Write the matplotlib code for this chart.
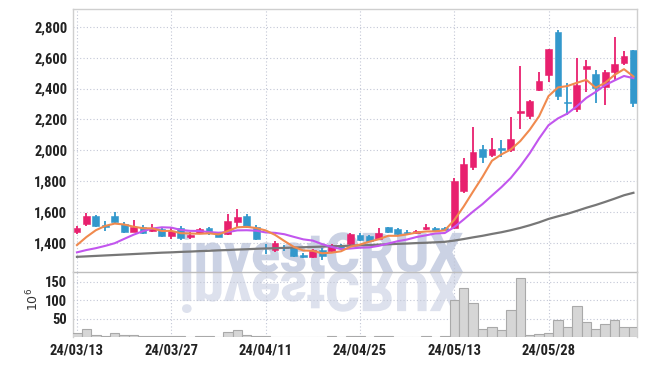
import numpy as np
import pandas as pd
import matplotlib
matplotlib.use('Agg')
import matplotlib.pyplot as plt
from matplotlib import font_manager
from matplotlib.textpath import TextPath
from matplotlib.patches import PathPatch
from matplotlib.transforms import Affine2D
from matplotlib.ticker import FuncFormatter

### Data

dates = ['2024-03-13', '2024-03-14', '2024-03-15', '2024-03-18', '2024-03-19', '2024-03-20', '2024-03-21', '2024-03-22', '2024-03-25', '2024-03-26',
         '2024-03-27', '2024-03-28', '2024-03-29', '2024-04-01', '2024-04-02', '2024-04-03', '2024-04-04', '2024-04-05', '2024-04-08', '2024-04-09',
         '2024-04-11', '2024-04-12', '2024-04-15', '2024-04-16', '2024-04-17', '2024-04-18', '2024-04-19', '2024-04-22', '2024-04-23', '2024-04-24',
         '2024-04-25', '2024-04-26', '2024-04-29', '2024-04-30', '2024-05-02', '2024-05-03', '2024-05-07', '2024-05-08', '2024-05-09', '2024-05-10',
         '2024-05-13', '2024-05-14', '2024-05-16', '2024-05-17', '2024-05-20', '2024-05-21', '2024-05-22', '2024-05-23', '2024-05-24', '2024-05-27',
         '2024-05-28', '2024-05-29', '2024-05-30', '2024-05-31', '2024-06-03', '2024-06-04', '2024-06-05', '2024-06-07', '2024-06-10', '2024-06-11']

opens = [1475, 1522, 1576, 1520, 1576, 1522, 1475, 1507, 1477, 1492,
         1449, 1499, 1443, 1464, 1497, 1464, 1458, 1535, 1576, 1507,
         1372, 1356, 1375, 1374, 1324, 1309, 1357, 1352, 1389, 1395,
         1453, 1447, 1428, 1507, 1492, 1475, 1464, 1490, 1497, 1501,
         1497, 1738, 1895, 2009, 1973, 2014, 2001, 2242, 2223, 2391,
         2488, 2764, 2313, 2268, 2526, 2494, 2412, 2505, 2563, 2649]
highs = [1514, 1598, 1580, 1542, 1604, 1534, 1548, 1518, 1522, 1500,
         1497, 1512, 1475, 1497, 1503, 1475, 1589, 1619, 1587, 1518,
         1398, 1415, 1389, 1382, 1335, 1361, 1367, 1395, 1395, 1464,
         1469, 1453, 1497, 1507, 1497, 1486, 1486, 1522, 1503, 1508,
         1820, 1949, 2149, 2035, 2078, 2068, 2218, 2548, 2326, 2509,
         2656, 2779, 2434, 2596, 2585, 2520, 2520, 2736, 2645, 2649]
lows = [1462, 1514, 1508, 1477, 1522, 1468, 1471, 1460, 1470, 1443,
        1428, 1423, 1425, 1458, 1453, 1438, 1453, 1501, 1497, 1421,
        1331, 1346, 1352, 1311, 1307, 1303, 1292, 1346, 1357, 1389,
        1417, 1410, 1421, 1468, 1453, 1453, 1458, 1486, 1471, 1477,
        1490, 1727, 1873, 1917, 1960, 1960, 1992, 2136, 2203, 2386,
        2445, 2326, 2229, 2251, 2376, 2305, 2294, 2455, 2552, 2283]
closes = [1501, 1576, 1514, 1507, 1535, 1475, 1505, 1464, 1501, 1449,
          1481, 1432, 1453, 1492, 1464, 1443, 1544, 1570, 1507, 1425,
          1367, 1400, 1370, 1318, 1309, 1357, 1320, 1389, 1367, 1458,
          1421, 1417, 1469, 1475, 1460, 1464, 1479, 1503, 1481, 1486,
          1802, 1912, 1988, 1955, 2009, 2005, 2074, 2257, 2320, 2449,
          2656, 2352, 2305, 2423, 2546, 2401, 2509, 2559, 2611, 2309]

ma5 = [1388, 1440, 1484, 1512, 1527, 1521, 1507, 1497, 1496, 1479,
       1480, 1465, 1463, 1461, 1464, 1457, 1479, 1503, 1506, 1498,
       1483, 1454, 1414, 1376, 1353, 1351, 1335, 1339, 1348, 1378,
       1391, 1410, 1426, 1448, 1448, 1457, 1469, 1476, 1477, 1483,
       1550, 1637, 1734, 1829, 1933, 1974, 2006, 2060, 2133, 2221,
       2351, 2407, 2416, 2437, 2456, 2405, 2437, 2488, 2525, 2478]
ma10 = [1341, 1356, 1368, 1383, 1400, 1428, 1455, 1478, 1495, 1503,
        1501, 1486, 1480, 1479, 1472, 1468, 1472, 1483, 1484, 1481,
        1470, 1467, 1458, 1441, 1425, 1417, 1394, 1376, 1362, 1366,
        1371, 1373, 1383, 1398, 1413, 1424, 1440, 1451, 1463, 1466,
        1504, 1553, 1605, 1653, 1708, 1762, 1822, 1897, 1981, 2077,
        2163, 2207, 2238, 2285, 2339, 2378, 2422, 2452, 2481, 2467]
ma60 = [1312, 1315, 1318, 1321, 1324, 1327, 1330, 1333, 1336, 1339,
        1341, 1344, 1346, 1349, 1351, 1354, 1356, 1359, 1361, 1364,
        1366, 1368, 1370, 1372, 1374, 1376, 1378, 1380, 1382, 1384,
        1386, 1388, 1391, 1393, 1396, 1398, 1401, 1403, 1406, 1409,
        1417, 1427, 1438, 1448, 1460, 1471, 1484, 1499, 1516, 1535,
        1557, 1574, 1590, 1609, 1629, 1647, 1667, 1688, 1710, 1726]

# volume in millions
volume = [10, 21, 5, 3, 10, 5, 5, 3, 3, 2,
          2, 2, 1, 2, 2, 1, 14, 19, 5, 3,
          2, 1, 1, 1, 1, 1, 1, 2, 1, 2,
          2, 1, 2, 2, 1, 1, 1, 2, 1, 2,
          101, 133, 92, 21, 26, 18, 73, 160, 6, 9,
          12, 47, 28, 85, 40, 23, 35, 45, 26, 26]

price_ticks = [1400, 1600, 1800, 2000, 2200, 2400, 2600, 2800]
vol_ticks = [50, 100, 150]
date_tick_idx = [0, 10, 20, 30, 40, 50]


def pick_font(names):
    for n in names:
        try:
            font_manager.findfont(font_manager.FontProperties(family=n),
                                  fallback_to_default=False)
            return n
        except Exception:
            pass
    return 'DejaVu Sans'


font = pick_font(['Liberation Sans Narrow', 'Roboto Condensed', 'Noto Sans Condensed',
                  'Open Sans Condensed', 'Roboto', 'DejaVu Sans'])
wm_font = pick_font(['Roboto', 'Liberation Sans', 'DejaVu Sans'])

W, H = 647, 366
fig = plt.figure(figsize=(W / 100, H / 100), dpi=100)
fig.patch.set_facecolor('white')

L, R = 73 / W, 637 / W
ax = fig.add_axes([L, 1 - 272 / H, R - L, (272 - 9) / H])
ax2 = fig.add_axes([L, 1 - 337 / H, R - L, (337 - 272) / H], sharex=ax)
for a in (ax, ax2):
    a.set_facecolor('none')
    a.set_zorder(2)

x = np.arange(len(dates))
o = np.array(opens); c = np.array(closes)
up = c >= o
red, blue = '#e8206e', '#3398cc'
cols = np.where(up, red, blue)

# candles
ax.vlines(x, lows, highs, colors=cols, lw=1.3, zorder=3)
body = np.maximum(np.abs(c - o), 4)
ax.bar(x, body, bottom=np.minimum(o, c), width=0.72, color=cols,
       edgecolor=cols, lw=0.4, zorder=4)

ax.plot(x, ma60, color='#777777', lw=1.6, zorder=5)
ax.plot(x, ma10, color='#c256ee', lw=1.5, zorder=5)
ax.plot(x, ma5, color='#f08a4e', lw=1.5, zorder=6)

# volume
ax2.bar(x, volume, width=1.0, color='#d6d6d6', edgecolor='#a9a9a9', lw=0.8, zorder=3)

ax.set_xlim(-0.42, 59.38)
ax.set_ylim(1214, 2914)
ax2.set_ylim(0, 177)

grid_kw = dict(color='#c3c7d6', linestyle=(0, (1, 2)), lw=0.8)
for a in (ax, ax2):
    a.grid(True, **grid_kw)
    a.set_axisbelow(True)
    a.tick_params(length=0, colors='#222222')
    for s in a.spines.values():
        s.set_color('#cfcfcf')
        s.set_linewidth(1.0)

ax.set_yticks(price_ticks)
ax.yaxis.set_major_formatter(FuncFormatter(lambda v, p: f'{int(v):,}'))
ax.tick_params(axis='x', labelbottom=False)
ax.tick_params(axis='y', pad=4)
ax.spines['bottom'].set_color('#bdbdbd')

ax2.set_yticks(vol_ticks)
ax2.spines['top'].set_visible(False)
ax2.spines['bottom'].set_visible(False)
ax2.set_xticks(date_tick_idx)
ax2.set_xticklabels(pd.to_datetime([dates[i] for i in date_tick_idx]).strftime('%y/%m/%d'))
ax2.tick_params(axis='x', pad=5)
ax2.tick_params(axis='y', pad=4)

fsize = 10.5
for a in (ax, ax2):
    for lab in a.get_xticklabels() + a.get_yticklabels():
        lab.set_fontfamily(font)
        lab.set_fontweight('bold')
        lab.set_fontsize(fsize)

fig.text(33 / W, 1 - 299 / H, r'$10^6$', rotation=90, ha='center', va='center',
         fontsize=9, color='#333333')

# watermark + reflection (behind the axes)
fp = font_manager.FontProperties(family=wm_font, weight='black')
tp = TextPath((0, 0), 'investCRUX', size=1, prop=fp)
bb = tp.get_extents()
sx = 281 / bb.width
sy = 41 / bb.y1
base = H - 272
for flip, col in ((1, '#cbd2e4'), (-1, '#dde1ed')):
    tr = (Affine2D().translate(-bb.x0, 0).scale(sx, sy * flip)
          .translate(182, base).scale(1 / W, 1 / H) + fig.transFigure)
    fig.patches.append(PathPatch(tp, transform=tr, facecolor=col,
                                 edgecolor='none', zorder=0.5, figure=fig))

fig.savefig('out.png', dpi=100, facecolor='white')
